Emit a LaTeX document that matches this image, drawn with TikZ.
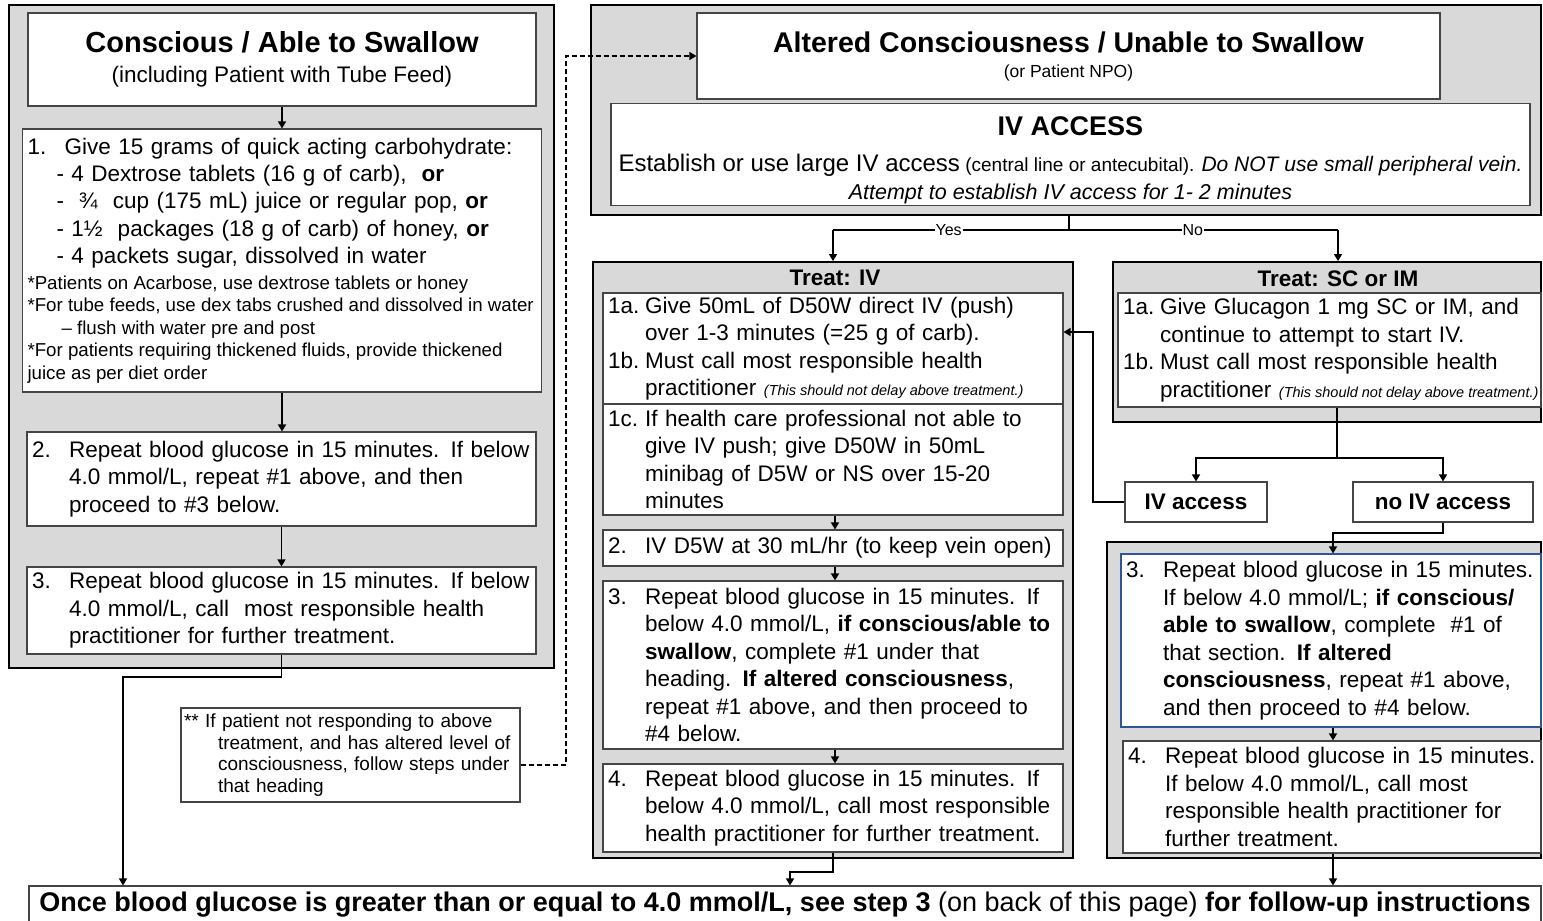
\documentclass[tikz,border=0pt]{standalone}
\usepackage{fontspec}
\setmainfont{Liberation Sans}
\usetikzlibrary{arrows.meta,calc}
\definecolor{panelgray}{HTML}{D9D9D9}
\definecolor{boxline}{HTML}{454545}
\definecolor{boxblue}{HTML}{2F5597}
\newcommand{\itemlab}[1]{\makebox[1.65em][l]{#1}}
\newcommand{\itemind}{\hspace*{1.65em}}
\newcommand{\delaynote}{{\spaceskip=0pt\itshape\fontsize{14.5}{15}\selectfont (This should not delay above treatment.)}}

\begin{document}
\begin{tikzpicture}[x=1pt,y=-1pt,
    panel/.style={draw=black,line width=1.8pt,fill=panelgray,inner sep=0pt},
    stepbox/.style={draw=boxline,line width=1.1pt,fill=white,inner xsep=5pt,inner ysep=2pt,align=left},
    body/.style={font=\fontsize{22.5}{27.5}\selectfont},
    conn/.style={line width=1.4pt,-{Triangle[length=7pt,width=8pt]}},
    wire/.style={line width=1.4pt},
    branchlabel/.style={fill=white,inner sep=1pt,font=\fontsize{16}{18}\selectfont}]
    \useasboundingbox (0,0) rectangle (1543,921);

    % Conscious / able to swallow column
    \node[panel,minimum width=545pt,minimum height=663pt] (panL) at (281.5,336.5) {};
    \node[stepbox,minimum width=508pt,minimum height=93pt,align=center,
          font=\fontsize{22.5}{30}\selectfont] (tConsc) at (282,59.5)
        {{\bfseries\fontsize{29}{30}\selectfont Conscious / Able to Swallow}\\
         (including Patient with Tube Feed)};
    \node[stepbox,minimum width=519pt,minimum height=263pt,text width=509pt,
          font=\fontsize{22.5}{27.3}\selectfont] (c1) at (282,260.5)
        {\itemlab{1.}Give 15 grams of quick acting carbohydrate:\\
         \hspace*{29pt}- 4 Dextrose tablets (16 g of carb),\ \ \textbf{or}\\
         \hspace*{29pt}-\ \ ¾\ \ cup (175 mL) juice or regular pop, \textbf{or}\\
         \hspace*{29pt}- 1½\ \ packages (18 g of carb) of honey, \textbf{or}\\
         \hspace*{29pt}- 4 packets sugar, dissolved in water\par\vspace{3pt}
         \spaceskip=0pt\fontsize{18.7}{22.5}\selectfont
         *Patients on Acarbose, use dextrose tablets or honey\newline
         *For tube feeds, use dex tabs crushed and dissolved in water\newline
         \hspace*{34pt}-- flush with water pre and post\newline
         *For patients requiring thickened fluids, provide thickened\newline
         juice as per diet order\par};
    \node[stepbox,body,minimum width=509pt,minimum height=94pt,text width=499pt] (c2) at (281.5,479)
        {\itemlab{2.}Repeat blood glucose in 15 minutes. If below\\
         \itemind 4.0 mmol/L, repeat \#1 above, and then\\
         \itemind proceed to \#3 below.};
    \node[stepbox,body,minimum width=509pt,minimum height=87pt,text width=499pt] (c3) at (281.5,610.5)
        {\itemlab{3.}Repeat blood glucose in 15 minutes. If below\\
         \itemind 4.0 mmol/L, call\ \ most responsible health\\
         \itemind practitioner for further treatment.};
    \draw[conn] (tConsc.south) -- (tConsc.south |- c1.north);
    \draw[conn] (c1.south) -- (c1.south |- c2.north);
    \draw[conn] (c2.south) -- (c2.south |- c3.north);

    % note and dashed link
    \node[stepbox,minimum width=339pt,minimum height=94pt,text width=333pt,inner xsep=3pt,
          font=\fontsize{19}{21.5}\selectfont] (note) at (350.5,755)
        {** If patient not responding to above\\
         \hspace*{34pt}treatment, and has altered level of\\
         \hspace*{34pt}consciousness, follow steps under\\
         \hspace*{34pt}that heading};

    % Altered consciousness / unable to swallow
    \node[panel,minimum width=950pt,minimum height=210pt] (panA) at (1066,110) {};
    \node[stepbox,minimum width=743pt,minimum height=86pt,align=center,
          font=\fontsize{17.5}{25}\selectfont] (tAlt) at (1068.5,56)
        {{\bfseries\fontsize{28.5}{30}\selectfont Altered Consciousness / Unable to Swallow}\\
         (or Patient NPO)};
    \node[stepbox,minimum width=919pt,minimum height=97pt,align=center,
          font=\fontsize{19}{28}\selectfont] (ivAcc) at (1070.5,154.5)
        {\rule{0pt}{30pt}{\bfseries\fontsize{27}{30}\selectfont IV ACCESS}\\[8pt]
         {\fontsize{24}{28}\selectfont Establish or use large IV access}
          (central line or antecubital).
          {\itshape\fontsize{21}{28}\selectfont Do NOT use small peripheral vein.}\\
         {\itshape\fontsize{21.5}{28}\selectfont Attempt to establish IV access for 1- 2 minutes}};
    \coordinate (kDash) at (566,765);
    \draw[conn,line width=1.2pt,dash pattern=on 5pt off 3pt] (note.east |- kDash) -- (kDash) |- (tAlt.west);

    % Yes / No split
    \node[panel,minimum width=480pt,minimum height=596pt] (panIV) at (833,560) {};
    \node[panel,minimum width=428pt,minimum height=160pt] (panSC) at (1327,342) {};
    \coordinate (kSplit) at (1069,230);
    \coordinate (kYes) at (833,230);
    \coordinate (kNoB) at (1338,230);
    \draw[wire] (kSplit |- panA.south) -- (kSplit);
    \draw[wire] (kSplit) -- node[pos=0.51,branchlabel] {Yes} (kYes);
    \draw[wire] (kSplit) -- node[pos=0.46,branchlabel] {No} (kNoB);
    \draw[conn] (kYes) -- (kYes |- panIV.north);
    \draw[conn] (kNoB) -- (kNoB |- panSC.north);

    % Treat: IV
    \node[font=\bfseries\fontsize{22.5}{26}\selectfont] (hIV) at (835,278) {Treat: IV};
    \node[stepbox,body,minimum width=460pt,minimum height=111pt,text width=450pt] (iv1) at (833,348.5)
        {\itemlab{1a.}Give 50mL of D50W direct IV (push)\\
         \itemind over 1-3 minutes (=25 g of carb).\\
         \itemlab{1b.}Must call most responsible health\\
         \itemind\mbox{practitioner \delaynote}};
    \node[stepbox,body,minimum width=460pt,minimum height=111pt,text width=450pt] (iv1c) at (833,459.5)
        {\itemlab{1c.}If health care professional not able to\\
         \itemind give IV push; give D50W in 50mL\\
         \itemind minibag of D5W or NS over 15-20\\
         \itemind minutes};
    \node[stepbox,body,minimum width=460pt,minimum height=36pt,text width=450pt] (iv2) at (833,548)
        {\itemlab{2.}IV D5W at 30 mL/hr (to keep vein open)};
    \node[stepbox,body,minimum width=460pt,minimum height=168pt,text width=450pt] (iv3) at (833,665)
        {\itemlab{3.}Repeat blood glucose in 15 minutes. If\\
         \itemind below 4.0 mmol/L, \textbf{if conscious/able to}\\
         \itemind \textbf{swallow}, complete \#1 under that\\
         \itemind heading. \textbf{If altered consciousness},\\
         \itemind repeat \#1 above, and then proceed to\\
         \itemind \#4 below.};
    \node[stepbox,body,minimum width=460pt,minimum height=88pt,text width=450pt] (iv4) at (833,808)
        {\itemlab{4.}Repeat blood glucose in 15 minutes. If\\
         \itemind below 4.0 mmol/L, call most responsible\\
         \itemind health practitioner for further treatment.};
    \draw[conn] ($(iv1c.south)+(2,0)$) -- ($(iv2.north)+(2,0)$);
    \draw[conn] ($(iv2.south)+(2,0)$) -- ($(iv3.north)+(2,0)$);
    \draw[conn] ($(iv3.south)+(2,0)$) -- ($(iv4.north)+(2,0)$);

    % Treat: SC or IM
    \node[font=\bfseries\fontsize{22.5}{26}\selectfont] (hSC) at (1338,279) {Treat: SC or IM};
    \node[stepbox,body,minimum width=423pt,minimum height=114pt,text width=413pt] (sc1) at (1329.5,350)
        {\itemlab{1a.}Give Glucagon 1 mg SC or IM, and\\
         \itemind continue to attempt to start IV.\\
         \itemlab{1b.}Must call most responsible health\\
         \itemind\mbox{practitioner \delaynote}};
    \node[stepbox,minimum width=142pt,minimum height=40pt,font=\bfseries\fontsize{22.5}{26}\selectfont] (ivA) at (1196,502) {IV access};
    \node[stepbox,minimum width=180pt,minimum height=40pt,font=\bfseries\fontsize{22.5}{26}\selectfont] (noIV) at (1443,502) {no IV access};
    \coordinate (kFork) at (1337,458);
    \draw[wire] (sc1.south -| kFork) -- (kFork);
    \draw[conn] (kFork) -| (ivA.north);
    \draw[conn] (kFork) -| (noIV.north);
    \coordinate (kBack) at (1093,332);
    \draw[conn] (ivA.west) -| (kBack) -- (kBack -| iv1.east);

    % no IV access steps
    \node[panel,minimum width=434pt,minimum height=316pt] (panNo) at (1324,700) {};
    \node[stepbox,body,draw=boxblue,minimum width=420pt,minimum height=173pt,text width=410pt] (no3) at (1331,640.5)
        {\itemlab{3.}Repeat blood glucose in 15 minutes.\\
         \itemind If below 4.0 mmol/L; \textbf{if conscious/}\\
         \itemind \textbf{able to swallow}, complete\ \ \#1 of\\
         \itemind that section. \textbf{If altered}\\
         \itemind \textbf{consciousness}, repeat \#1 above,\\
         \itemind and then proceed to \#4 below.};
    \node[stepbox,body,minimum width=418pt,minimum height=112pt,text width=408pt] (no4) at (1332,797)
        {\itemlab{4.}Repeat blood glucose in 15 minutes.\\
         \itemind If below 4.0 mmol/L, call most\\
         \itemind responsible health practitioner for\\
         \itemind further treatment.};
    \coordinate (kNo) at (1333,533);
    \draw[conn] (noIV.south) |- (kNo) -- (kNo |- no3.north);
    \draw[conn] (kNo |- no3.south) -- (kNo |- no4.north);

    % follow-up
    \node[stepbox,minimum width=1512pt,minimum height=38pt,align=center,
          font=\fontsize{27}{30}\selectfont] (fin) at (785,905)
        {\textbf{Once blood glucose is greater than or equal to 4.0 mmol/L, see step 3} (on back of this page) \textbf{for follow-up instructions}};
    \coordinate (kL) at (123,677);
    \draw[conn] (c3.south) |- (kL) -- (kL |- fin.north);
    \coordinate (kIV) at (790,872);
    \draw[conn] (iv4.south) |- (kIV) -- (kIV |- fin.north);
    \draw[conn] (no4.south -| kNo) -- (kNo |- fin.north);
\end{tikzpicture}
\end{document}
